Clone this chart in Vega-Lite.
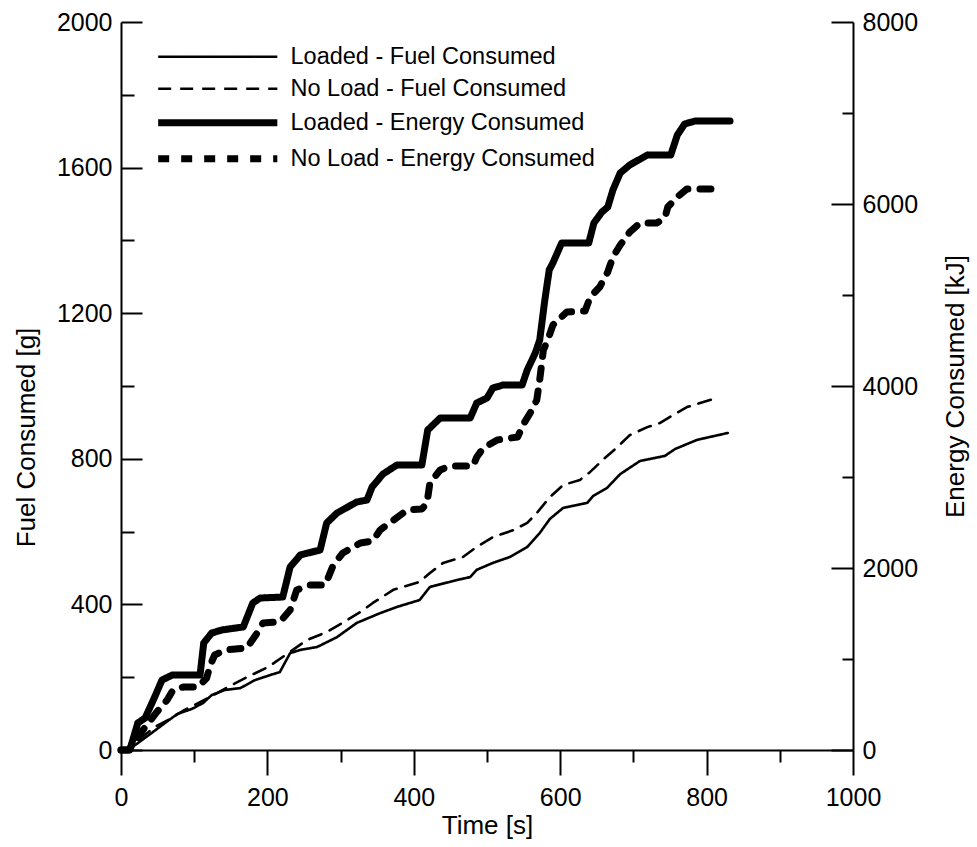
{
  "$schema": "https://vega.github.io/schema/vega-lite/v6.json",
  "autosize": {"type": "none"},
  "padding": {"left": 121, "top": 22, "right": 124, "bottom": 97},
  "width": 732,
  "height": 728,
  "background": "white",
  "datasets": {
    "lf": [
      {"series":"Loaded - Fuel Consumed","t":0,"v":0},{"series":"Loaded - Fuel Consumed","t":10,"v":0},{"series":"Loaded - Fuel Consumed","t":23,"v":19},{"series":"Loaded - Fuel Consumed","t":42,"v":47},{"series":"Loaded - Fuel Consumed","t":60,"v":74},{"series":"Loaded - Fuel Consumed","t":77,"v":99},{"series":"Loaded - Fuel Consumed","t":97,"v":113},{"series":"Loaded - Fuel Consumed","t":112,"v":129},{"series":"Loaded - Fuel Consumed","t":124,"v":151},{"series":"Loaded - Fuel Consumed","t":142,"v":165},{"series":"Loaded - Fuel Consumed","t":163,"v":170},{"series":"Loaded - Fuel Consumed","t":183,"v":192},{"series":"Loaded - Fuel Consumed","t":204,"v":206},{"series":"Loaded - Fuel Consumed","t":217,"v":214},{"series":"Loaded - Fuel Consumed","t":231,"v":266},{"series":"Loaded - Fuel Consumed","t":245,"v":275},{"series":"Loaded - Fuel Consumed","t":268,"v":283},{"series":"Loaded - Fuel Consumed","t":295,"v":310},{"series":"Loaded - Fuel Consumed","t":322,"v":349},{"series":"Loaded - Fuel Consumed","t":354,"v":376},{"series":"Loaded - Fuel Consumed","t":377,"v":393},{"series":"Loaded - Fuel Consumed","t":408,"v":412},{"series":"Loaded - Fuel Consumed","t":422,"v":448},{"series":"Loaded - Fuel Consumed","t":459,"v":467},{"series":"Loaded - Fuel Consumed","t":477,"v":475},{"series":"Loaded - Fuel Consumed","t":486,"v":495},{"series":"Loaded - Fuel Consumed","t":508,"v":514},{"series":"Loaded - Fuel Consumed","t":531,"v":530},{"series":"Loaded - Fuel Consumed","t":555,"v":558},{"series":"Loaded - Fuel Consumed","t":572,"v":596},{"series":"Loaded - Fuel Consumed","t":586,"v":635},{"series":"Loaded - Fuel Consumed","t":604,"v":665},{"series":"Loaded - Fuel Consumed","t":637,"v":679},{"series":"Loaded - Fuel Consumed","t":645,"v":698},{"series":"Loaded - Fuel Consumed","t":664,"v":720},{"series":"Loaded - Fuel Consumed","t":682,"v":758},{"series":"Loaded - Fuel Consumed","t":709,"v":794},{"series":"Loaded - Fuel Consumed","t":743,"v":808},{"series":"Loaded - Fuel Consumed","t":757,"v":827},{"series":"Loaded - Fuel Consumed","t":787,"v":852},{"series":"Loaded - Fuel Consumed","t":829,"v":871}
    ],
    "nf": [
      {"series":"No Load - Fuel Consumed","t":0,"v":0},{"series":"No Load - Fuel Consumed","t":12,"v":5},{"series":"No Load - Fuel Consumed","t":29,"v":36},{"series":"No Load - Fuel Consumed","t":46,"v":63},{"series":"No Load - Fuel Consumed","t":64,"v":82},{"series":"No Load - Fuel Consumed","t":87,"v":110},{"series":"No Load - Fuel Consumed","t":101,"v":124},{"series":"No Load - Fuel Consumed","t":124,"v":148},{"series":"No Load - Fuel Consumed","t":146,"v":173},{"series":"No Load - Fuel Consumed","t":173,"v":201},{"series":"No Load - Fuel Consumed","t":201,"v":228},{"series":"No Load - Fuel Consumed","t":227,"v":264},{"series":"No Load - Fuel Consumed","t":254,"v":302},{"series":"No Load - Fuel Consumed","t":281,"v":324},{"series":"No Load - Fuel Consumed","t":309,"v":357},{"series":"No Load - Fuel Consumed","t":327,"v":379},{"series":"No Load - Fuel Consumed","t":344,"v":404},{"series":"No Load - Fuel Consumed","t":372,"v":440},{"series":"No Load - Fuel Consumed","t":408,"v":462},{"series":"No Load - Fuel Consumed","t":422,"v":486},{"series":"No Load - Fuel Consumed","t":440,"v":514},{"series":"No Load - Fuel Consumed","t":467,"v":530},{"series":"No Load - Fuel Consumed","t":486,"v":558},{"series":"No Load - Fuel Consumed","t":508,"v":585},{"series":"No Load - Fuel Consumed","t":536,"v":604},{"series":"No Load - Fuel Consumed","t":555,"v":624},{"series":"No Load - Fuel Consumed","t":568,"v":651},{"series":"No Load - Fuel Consumed","t":586,"v":695},{"series":"No Load - Fuel Consumed","t":604,"v":728},{"series":"No Load - Fuel Consumed","t":627,"v":742},{"series":"No Load - Fuel Consumed","t":641,"v":764},{"series":"No Load - Fuel Consumed","t":661,"v":802},{"series":"No Load - Fuel Consumed","t":678,"v":832},{"series":"No Load - Fuel Consumed","t":695,"v":865},{"series":"No Load - Fuel Consumed","t":719,"v":887},{"series":"No Load - Fuel Consumed","t":736,"v":898},{"series":"No Load - Fuel Consumed","t":754,"v":920},{"series":"No Load - Fuel Consumed","t":773,"v":942},{"series":"No Load - Fuel Consumed","t":814,"v":967}
    ],
    "le": [
      {"series":"Loaded - Energy Consumed","t":0,"v":0},{"series":"Loaded - Energy Consumed","t":12,"v":0},{"series":"Loaded - Energy Consumed","t":23,"v":297},{"series":"Loaded - Energy Consumed","t":33,"v":352},{"series":"Loaded - Energy Consumed","t":46,"v":582},{"series":"Loaded - Energy Consumed","t":56,"v":769},{"series":"Loaded - Energy Consumed","t":70,"v":824},{"series":"Loaded - Energy Consumed","t":108,"v":824},{"series":"Loaded - Energy Consumed","t":113,"v":1176},{"series":"Loaded - Energy Consumed","t":124,"v":1286},{"series":"Loaded - Energy Consumed","t":138,"v":1319},{"series":"Loaded - Energy Consumed","t":167,"v":1352},{"series":"Loaded - Energy Consumed","t":180,"v":1615},{"series":"Loaded - Energy Consumed","t":190,"v":1670},{"series":"Loaded - Energy Consumed","t":221,"v":1681},{"series":"Loaded - Energy Consumed","t":231,"v":2011},{"series":"Loaded - Energy Consumed","t":245,"v":2143},{"series":"Loaded - Energy Consumed","t":272,"v":2198},{"series":"Loaded - Energy Consumed","t":281,"v":2495},{"series":"Loaded - Energy Consumed","t":295,"v":2604},{"series":"Loaded - Energy Consumed","t":322,"v":2725},{"series":"Loaded - Energy Consumed","t":336,"v":2747},{"series":"Loaded - Energy Consumed","t":343,"v":2890},{"series":"Loaded - Energy Consumed","t":358,"v":3033},{"series":"Loaded - Energy Consumed","t":377,"v":3132},{"series":"Loaded - Energy Consumed","t":411,"v":3132},{"series":"Loaded - Energy Consumed","t":419,"v":3516},{"series":"Loaded - Energy Consumed","t":436,"v":3648},{"series":"Loaded - Energy Consumed","t":477,"v":3648},{"series":"Loaded - Energy Consumed","t":486,"v":3813},{"series":"Loaded - Energy Consumed","t":500,"v":3868},{"series":"Loaded - Energy Consumed","t":508,"v":3978},{"series":"Loaded - Energy Consumed","t":522,"v":4011},{"series":"Loaded - Energy Consumed","t":548,"v":4011},{"series":"Loaded - Energy Consumed","t":555,"v":4176},{"series":"Loaded - Energy Consumed","t":566,"v":4363},{"series":"Loaded - Energy Consumed","t":572,"v":4505},{"series":"Loaded - Energy Consumed","t":579,"v":4945},{"series":"Loaded - Energy Consumed","t":585,"v":5275},{"series":"Loaded - Energy Consumed","t":590,"v":5352},{"series":"Loaded - Energy Consumed","t":602,"v":5571},{"series":"Loaded - Energy Consumed","t":639,"v":5571},{"series":"Loaded - Energy Consumed","t":646,"v":5791},{"series":"Loaded - Energy Consumed","t":657,"v":5912},{"series":"Loaded - Energy Consumed","t":665,"v":5967},{"series":"Loaded - Energy Consumed","t":672,"v":6154},{"series":"Loaded - Energy Consumed","t":682,"v":6341},{"series":"Loaded - Energy Consumed","t":695,"v":6429},{"series":"Loaded - Energy Consumed","t":719,"v":6538},{"series":"Loaded - Energy Consumed","t":751,"v":6538},{"series":"Loaded - Energy Consumed","t":760,"v":6758},{"series":"Loaded - Energy Consumed","t":770,"v":6879},{"series":"Loaded - Energy Consumed","t":784,"v":6912},{"series":"Loaded - Energy Consumed","t":832,"v":6912}
    ],
    "ne": [
      {"series":"No Load - Energy Consumed","t":0,"v":0},{"series":"No Load - Energy Consumed","t":10,"v":0},{"series":"No Load - Energy Consumed","t":16,"v":55},{"series":"No Load - Energy Consumed","t":30,"v":220},{"series":"No Load - Energy Consumed","t":49,"v":418},{"series":"No Load - Energy Consumed","t":63,"v":549},{"series":"No Load - Energy Consumed","t":71,"v":659},{"series":"No Load - Energy Consumed","t":85,"v":692},{"series":"No Load - Energy Consumed","t":105,"v":692},{"series":"No Load - Energy Consumed","t":117,"v":791},{"series":"No Load - Energy Consumed","t":122,"v":934},{"series":"No Load - Energy Consumed","t":128,"v":1044},{"series":"No Load - Energy Consumed","t":142,"v":1099},{"series":"No Load - Energy Consumed","t":172,"v":1121},{"series":"No Load - Energy Consumed","t":186,"v":1286},{"series":"No Load - Energy Consumed","t":194,"v":1396},{"series":"No Load - Energy Consumed","t":217,"v":1407},{"series":"No Load - Energy Consumed","t":231,"v":1538},{"series":"No Load - Energy Consumed","t":240,"v":1758},{"series":"No Load - Energy Consumed","t":258,"v":1813},{"series":"No Load - Energy Consumed","t":279,"v":1813},{"series":"No Load - Energy Consumed","t":290,"v":2033},{"series":"No Load - Energy Consumed","t":303,"v":2165},{"series":"No Load - Energy Consumed","t":327,"v":2275},{"series":"No Load - Energy Consumed","t":344,"v":2297},{"series":"No Load - Energy Consumed","t":354,"v":2418},{"series":"No Load - Energy Consumed","t":367,"v":2495},{"series":"No Load - Energy Consumed","t":391,"v":2637},{"series":"No Load - Energy Consumed","t":411,"v":2648},{"series":"No Load - Energy Consumed","t":418,"v":2714},{"series":"No Load - Energy Consumed","t":422,"v":2934},{"series":"No Load - Energy Consumed","t":436,"v":3077},{"series":"No Load - Energy Consumed","t":449,"v":3120},{"series":"No Load - Energy Consumed","t":481,"v":3120},{"series":"No Load - Energy Consumed","t":486,"v":3220},{"series":"No Load - Energy Consumed","t":495,"v":3319},{"series":"No Load - Energy Consumed","t":514,"v":3407},{"series":"No Load - Energy Consumed","t":542,"v":3440},{"series":"No Load - Energy Consumed","t":549,"v":3571},{"series":"No Load - Energy Consumed","t":559,"v":3703},{"series":"No Load - Energy Consumed","t":568,"v":3846},{"series":"No Load - Energy Consumed","t":572,"v":4066},{"series":"No Load - Energy Consumed","t":577,"v":4396},{"series":"No Load - Energy Consumed","t":583,"v":4505},{"series":"No Load - Energy Consumed","t":590,"v":4670},{"series":"No Load - Energy Consumed","t":609,"v":4813},{"series":"No Load - Energy Consumed","t":634,"v":4824},{"series":"No Load - Energy Consumed","t":641,"v":4978},{"series":"No Load - Energy Consumed","t":654,"v":5088},{"series":"No Load - Energy Consumed","t":665,"v":5253},{"series":"No Load - Energy Consumed","t":672,"v":5418},{"series":"No Load - Energy Consumed","t":682,"v":5549},{"series":"No Load - Energy Consumed","t":695,"v":5692},{"series":"No Load - Energy Consumed","t":709,"v":5791},{"series":"No Load - Energy Consumed","t":732,"v":5791},{"series":"No Load - Energy Consumed","t":743,"v":5846},{"series":"No Load - Energy Consumed","t":747,"v":5967},{"series":"No Load - Energy Consumed","t":760,"v":6077},{"series":"No Load - Energy Consumed","t":773,"v":6165},{"series":"No Load - Energy Consumed","t":807,"v":6165}
    ]
  },
  "encoding": {
    "strokeDash": {
      "field": "series", "type": "nominal",
      "scale": {
        "domain": ["Loaded - Fuel Consumed", "No Load - Fuel Consumed", "Loaded - Energy Consumed", "No Load - Energy Consumed"],
        "range": [[1, 0], [13, 9], [1, 0], [11, 12]]
      },
      "legend": {"orient": "none", "legendX": 85, "legendY": 23, "title": null}
    },
    "strokeWidth": {
      "field": "series", "type": "nominal",
      "scale": {
        "type": "ordinal",
        "domain": ["Loaded - Fuel Consumed", "No Load - Fuel Consumed", "Loaded - Energy Consumed", "No Load - Energy Consumed"],
        "range": [2.6, 2.6, 7, 7]
      },
      "legend": {"orient": "none", "legendX": 85, "legendY": 23, "title": null}
    }
  },
  "layer": [
    {
      "layer": [
        {
          "data": {"name": "lf"},
          "mark": {"type": "line", "color": "black", "strokeCap": "round", "strokeJoin": "round"},
          "encoding": {
            "x": {"field": "t", "type": "quantitative", "scale": {"domain": [0, 1000], "nice": false},
              "axis": {"orient": "bottom", "values": [0, 200, 400, 600, 800, 1000], "format": "d", "tickSize": 25, "labelPadding": 10, "title": "Time [s]", "titlePadding": 2}},
            "y": {"field": "v", "type": "quantitative", "scale": {"domain": [0, 2000], "nice": false},
              "axis": {"orient": "left", "values": [0, 400, 800, 1200, 1600, 2000], "format": "d", "tickSize": -21, "labelPadding": 30, "title": "Fuel Consumed [g]", "titlePadding": 17, "titleY": 415}}
          }
        },
        {
          "data": {"name": "nf"},
          "mark": {"type": "line", "color": "black", "strokeCap": "round", "strokeJoin": "round"},
          "encoding": {
            "x": {"field": "t", "type": "quantitative", "scale": {"domain": [0, 1000], "nice": false},
              "axis": {"orient": "bottom", "values": [100, 300, 500, 700, 900], "tickSize": 12, "labels": false, "domain": false, "title": null}},
            "y": {"field": "v", "type": "quantitative", "scale": {"domain": [0, 2000], "nice": false},
              "axis": {"orient": "left", "values": [200, 600, 1000, 1400, 1800], "tickSize": -13, "labels": false, "domain": false, "title": null}}
          }
        }
      ],
      "resolve": {"axis": {"x": "independent", "y": "independent"}}
    },
    {
      "layer": [
        {
          "data": {"name": "le"},
          "mark": {"type": "line", "color": "black", "strokeCap": "round", "strokeJoin": "round"},
          "encoding": {
            "x": {"field": "t", "type": "quantitative", "scale": {"domain": [0, 1000], "nice": false}, "axis": null},
            "y": {"field": "v", "type": "quantitative", "scale": {"domain": [0, 8000], "nice": false},
              "axis": {"orient": "right", "values": [0, 2000, 4000, 6000, 8000], "format": "d", "tickSize": -22, "labelPadding": 31, "title": "Energy Consumed [kJ]", "titleAngle": 270, "titleBaseline": "top", "titlePadding": 25}}
          }
        },
        {
          "data": {"name": "ne"},
          "mark": {"type": "line", "color": "black", "strokeCap": "round", "strokeJoin": "round"},
          "encoding": {
            "x": {"field": "t", "type": "quantitative", "scale": {"domain": [0, 1000], "nice": false}, "axis": null},
            "y": {"field": "v", "type": "quantitative", "scale": {"domain": [0, 8000], "nice": false},
              "axis": {"orient": "right", "values": [1000, 3000, 5000, 7000], "tickSize": -11, "labels": false, "domain": false, "title": null}}
          }
        }
      ],
      "resolve": {"axis": {"y": "independent"}}
    }
  ],
  "resolve": {"scale": {"y": "independent"}, "axis": {"x": "independent", "y": "independent"}},
  "config": {
    "view": {"stroke": null},
    "axis": {
      "grid": false, "labelFont": "Liberation Sans", "titleFont": "Liberation Sans",
      "labelFontSize": 25, "titleFontSize": 26, "titleFontWeight": "normal",
      "labelColor": "black", "titleColor": "black", "domainColor": "black", "tickColor": "black",
      "domainWidth": 2, "tickWidth": 2, "labelFlush": false, "labelOverlap": false, "labelBound": false
    },
    "legend": {
      "symbolType": "M-10,0H10", "symbolSize": 142, "symbolStrokeColor": "black",
      "labelFont": "Liberation Sans", "labelFontSize": 23.5, "labelColor": "black",
      "labelOffset": 61, "rowPadding": 7, "padding": 0, "labelLimit": 400
    }
  }
}
